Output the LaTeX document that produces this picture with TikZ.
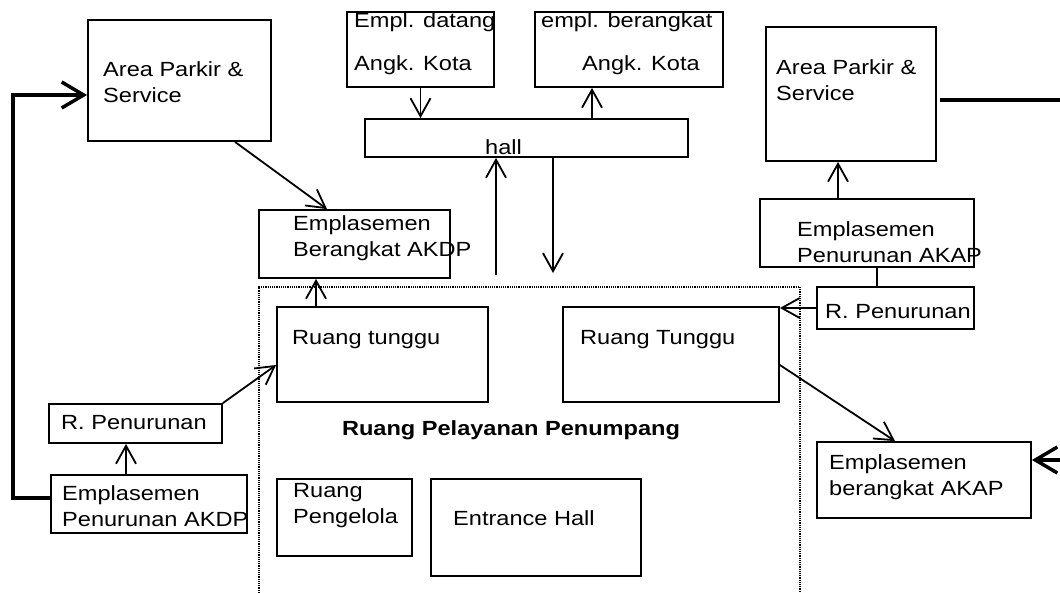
\documentclass[tikz,border=0pt]{standalone}
\usepackage{fontspec}
\setmainfont{Liberation Sans}[FakeStretch=1.15]
\usetikzlibrary{arrows.meta,calc}
\tikzset{kotak/.style={draw, line width=1.8pt, inner sep=0pt}}
\tikzset{teks/.style={anchor=west, inner sep=0pt, align=left}}
\tikzset{panah/.style={line width=1.8pt, -{Straight Barb[length=18pt,width=20pt]}}}
\tikzset{tebal/.style={line width=3.5pt}}
\tikzset{panahtebal/.style={line width=3.5pt, -{Straight Barb[length=22pt,width=26pt]}}}
\tikzset{titik/.style={line width=1.2pt, densely dotted}}
\newcommand{\ruangbox}[4]{
	\node[kotak, minimum width=#3pt, minimum height=#4pt] (#1) at #2 {};
}

\begin{document}
\begin{tikzpicture}[x=1pt,y=-1pt,font=\fontsize{20.5}{26}\selectfont]
	\useasboundingbox (0,0) rectangle (1060,593);
	% ruang pelayanan (garis titik)
	\draw[titik] (259,593) -- (259,287) -- (800,287) -- (800,593);
	% kotak-kotak
	\ruangbox{parkirL}{(179.5,80.5)}{183}{121}
	\ruangbox{brktAKDP}{(354.5,244)}{191}{68}
	\ruangbox{datang}{(420.5,49.5)}{147}{75}
	\ruangbox{brktkota}{(629,49.5)}{188}{75}
	\ruangbox{hall}{(526.5,138)}{323}{38}
	\ruangbox{tungguL}{(382.5,354.5)}{211}{95}
	\ruangbox{tungguR}{(671,354.5)}{216}{95}
	\ruangbox{pengelola}{(344.5,517.5)}{135}{77}
	\ruangbox{entrance}{(536,527.5)}{210}{97}
	\ruangbox{turunL}{(135.5,423.5)}{173}{39}
	\ruangbox{turunAKDP}{(149,504)}{196}{58}
	\ruangbox{parkirR}{(851,94)}{170}{134}
	\ruangbox{turunAKAP}{(867,233)}{214}{68}
	\ruangbox{turunR}{(895.5,308)}{157}{42}
	\ruangbox{brktAKAP}{(924,480)}{214}{76}
	% teks
	\node[teks] (tparkirL) at (103,82) {Area Parkir \&\\Service};
	\node[teks] (tbrktAKDP) at (293,238.5) {Emplasemen\\Berangkat AKDP};
	\node[teks] (tdatang) at (354,43.5) {Empl. datang\\[17pt]Angk. Kota};
	\node[teks] (tbrktkota1) at (541,22) {empl. berangkat};
	\node[teks] (tbrktkota2) at (582,65) {Angk. Kota};
	\node[teks] (thall) at (485,147) {hall};
	\node[teks] (ttungguL) at (292,340) {Ruang tunggu};
	\node[teks] (ttungguR) at (580,340) {Ruang Tunggu};
	\node[font=\fontsize{20.5}{26}\selectfont\bfseries] (judul) at (511,430) {Ruang Pelayanan Penumpang};
	\node[teks] (tpengelola) at (293,505.5) {Ruang\\Pengelola};
	\node[teks] (tentrance) at (453,518) {Entrance Hall};
	\node[teks] (tturunL) at (61,423) {R. Penurunan};
	\node[teks] (tturunAKDP) at (62,506) {Emplasemen\\Penurunan AKDP};
	\node[teks] (tparkirR) at (776,80.5) {Area Parkir \&\\Service};
	\node[teks] (tturunAKAP) at (797,242.5) {Emplasemen\\Penurunan AKAP};
	\node[teks] (tturunR) at (825,312) {R. Penurunan};
	\node[teks] (tbrktAKAP) at (829,477.5) {Emplasemen\\berangkat AKAP};
	% jalur kiri
	\coordinate (belokL1) at (13,498);
	\coordinate (belokL2) at (13,95);
	\draw[panahtebal] (turunAKDP.west |- belokL1) -- (belokL1) -- (belokL2) -- (parkirL.west |- belokL2);
	\draw[panah] ([xshift=55.5pt]parkirL.south) -- ([xshift=-27.5pt]brktAKDP.north);
	\draw[panah] ([xshift=-66.5pt]tungguL.north) -- ([xshift=-66.5pt]tungguL.north |- brktAKDP.south);
	\draw[panah] ([xshift=-23pt]turunAKDP.north) -- ([xshift=-23pt]turunAKDP.north |- turunL.south);
	\draw[panah] (turunL.north east) -- ([yshift=-10.5pt]tungguL.west);
	% hall
	\draw[panah] (datang.south) -- (datang.south |- hall.north);
	\draw[panah] ([xshift=-37pt]brktkota.south |- hall.north) -- ([xshift=-37pt]brktkota.south);
	\coordinate (naik) at (496,275);
	\coordinate (turun) at (553,273);
	\draw[panah] (naik) -- (naik |- hall.south);
	\draw[panah] (turun |- hall.south) -- (turun);
	% jalur kanan
	\draw[panah] ([xshift=-29pt]turunAKAP.north) -- ([xshift=-29pt]turunAKAP.north |- parkirR.south);
	\draw[line width=1.8pt] ([xshift=10pt]turunAKAP.south) -- ([xshift=10pt]turunAKAP.south |- turunR.north);
	\draw[panah] (turunR.west) -- (turunR.west -| tungguR.east);
	\draw[panah] ([yshift=-10.5pt]tungguR.east) -- ([xshift=-29pt]brktAKAP.north);
	\coordinate (tepiR1) at (1060,100);
	\coordinate (tepiR2) at (1060,460);
	\draw[tebal] ([xshift=3pt]parkirR.east |- tepiR1) -- (tepiR1);
	\draw[panahtebal] (tepiR2) -- (tepiR2 -| brktAKAP.east);
\end{tikzpicture}
\end{document}
